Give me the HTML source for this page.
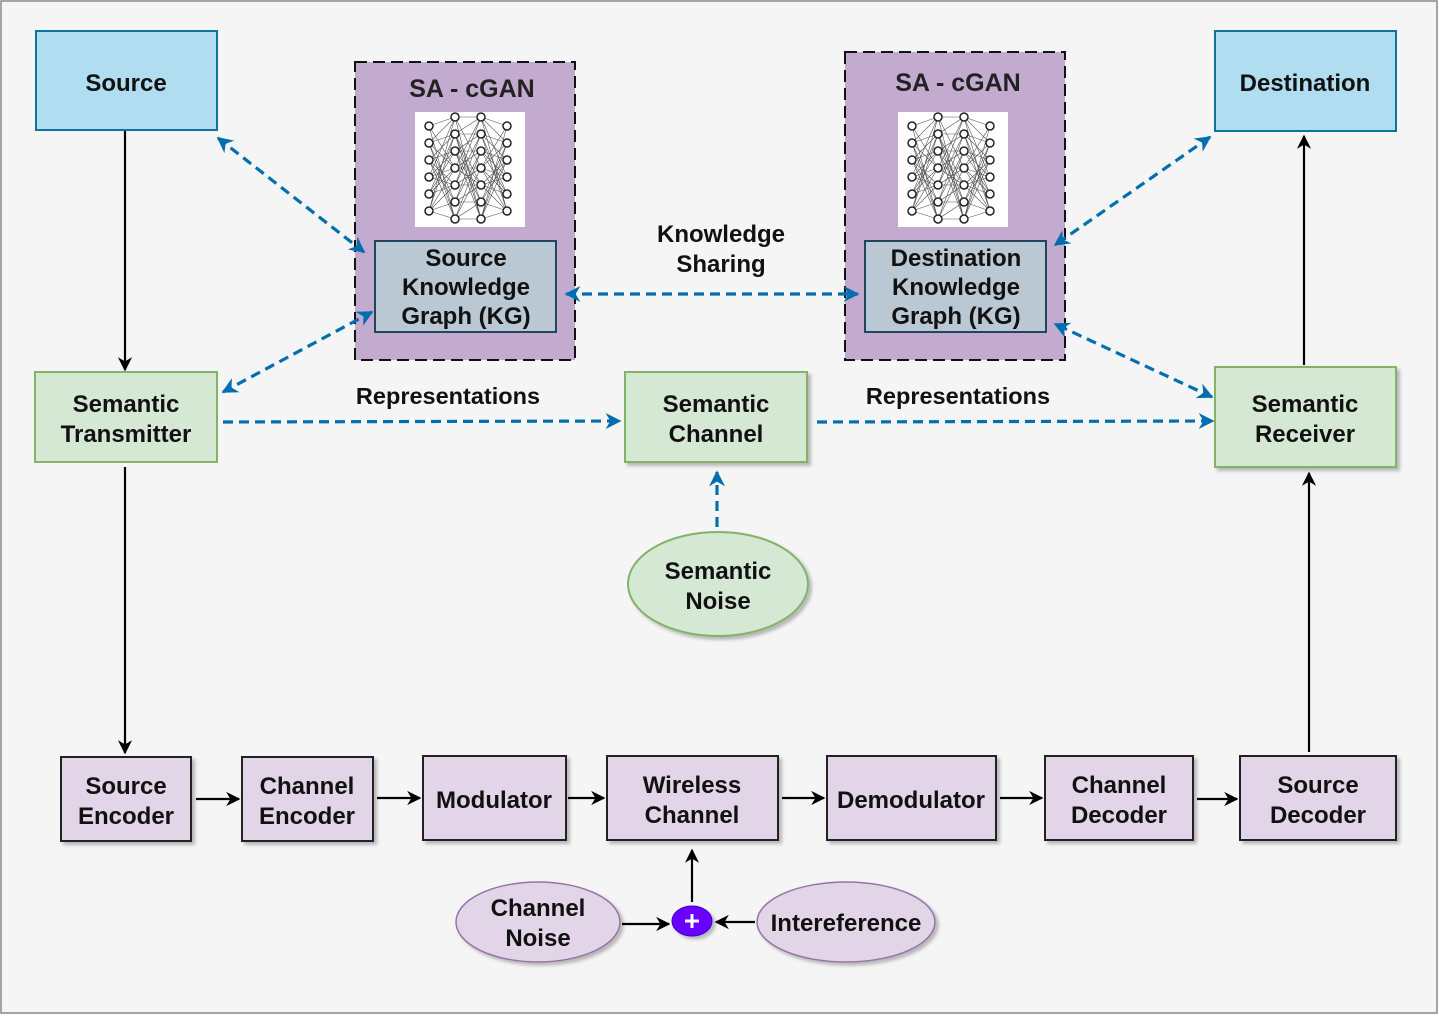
<!DOCTYPE html>
<html><head><meta charset="utf-8"><style>
html,body{margin:0;padding:0;background:#fff}
svg text{font-family:"Liberation Sans",Arial,sans-serif;font-weight:bold;fill:#111}
</style></head><body>
<svg width="1439" height="1016" viewBox="0 0 1439 1016" xmlns="http://www.w3.org/2000/svg">
<defs>
<marker id="ab" viewBox="0 0 10 10" refX="9" refY="5" markerWidth="6.5" markerHeight="6.5" orient="auto-start-reverse"><path d="M0,0 L10,5 L0,10 L3,5 z" fill="#000"/></marker>
<marker id="au" viewBox="0 0 10 10" refX="9" refY="5" markerWidth="5" markerHeight="5" orient="auto-start-reverse"><path d="M0,0 L10,5 L0,10 L3,5 z" fill="#006eaf"/></marker>
<filter id="sh" x="-10%" y="-10%" width="130%" height="130%"><feDropShadow dx="3" dy="3" stdDeviation="1.5" flood-color="#000" flood-opacity="0.25"/></filter>
<g id="nn">
<rect x="0" y="0" width="110" height="115" fill="#fff"/>
<g stroke="#555" stroke-width="0.6" fill="none">
<path d="M14 14L40 5L14 31L40 22L14 48L40 39L14 65L40 56L14 82L40 73L14 99L40 90M14 14L40 107L14 31L40 90L14 48L40 73L14 65L40 39L14 82L40 22L14 99L40 5M14 14L40 56L14 99L40 107M14 31L40 56L14 82L40 56M14 48L40 107M14 65L40 5"/>
<path d="M40 5L66 5L40 22L66 22L40 39L66 39L40 56L66 56L40 73L66 73L40 90L66 90L40 107L66 107M40 5L66 107L40 22L66 90L40 39L66 73L40 56L66 5L40 73L66 22L40 90L66 39L40 107L66 56M40 5L66 56L40 107M40 22L66 73M40 90L66 22M40 39L66 107M40 73L66 5"/>
<path d="M92 14L66 5L92 31L66 22L92 48L66 39L92 65L66 56L92 82L66 73L92 99L66 90M92 14L66 107L92 31L66 90L92 48L66 73L92 65L66 39L92 82L66 22L92 99L66 5M92 14L66 56L92 99L66 107M92 31L66 56L92 82L66 56M92 48L66 107M92 65L66 5"/>
</g>
<g fill="#fff" stroke="#222" stroke-width="1.5">
<circle cx="14" cy="14" r="4"/><circle cx="14" cy="31" r="4"/><circle cx="14" cy="48" r="4"/><circle cx="14" cy="65" r="4"/><circle cx="14" cy="82" r="4"/><circle cx="14" cy="99" r="4"/>
<circle cx="40" cy="5" r="4"/><circle cx="40" cy="22" r="4"/><circle cx="40" cy="39" r="4"/><circle cx="40" cy="56" r="4"/><circle cx="40" cy="73" r="4"/><circle cx="40" cy="90" r="4"/><circle cx="40" cy="107" r="4"/>
<circle cx="66" cy="5" r="4"/><circle cx="66" cy="22" r="4"/><circle cx="66" cy="39" r="4"/><circle cx="66" cy="56" r="4"/><circle cx="66" cy="73" r="4"/><circle cx="66" cy="90" r="4"/><circle cx="66" cy="107" r="4"/>
<circle cx="92" cy="14" r="4"/><circle cx="92" cy="31" r="4"/><circle cx="92" cy="48" r="4"/><circle cx="92" cy="65" r="4"/><circle cx="92" cy="82" r="4"/><circle cx="92" cy="99" r="4"/>
</g>
</g>
</defs>
<rect x="1" y="1" width="1436" height="1012" fill="#f5f5f5" stroke="#888" stroke-width="1.5"/>

<!-- top boxes -->
<rect x="36" y="31" width="181" height="99" fill="#b1ddf0" stroke="#10739e" stroke-width="2"/>
<text x="126" y="91" font-size="24" text-anchor="middle">Source</text>
<rect x="1215" y="31" width="181" height="100" fill="#b1ddf0" stroke="#10739e" stroke-width="2"/>
<text x="1305" y="91" font-size="24" text-anchor="middle">Destination</text>

<!-- SA-cGAN -->
<rect x="355" y="62" width="220" height="298" fill="#c3abd0" stroke="#111" stroke-width="2" stroke-dasharray="12,6"/>
<text x="472" y="97" font-size="25" text-anchor="middle" style="fill:#222">SA - cGAN</text>
<use href="#nn" x="415" y="112"/>
<rect x="375" y="241" width="181" height="91" fill="#bac8d3" stroke="#23445d" stroke-width="2"/>
<text font-size="24" text-anchor="middle"><tspan x="466" y="266">Source</tspan><tspan x="466" y="295">Knowledge</tspan><tspan x="466" y="324">Graph (KG)</tspan></text>

<rect x="845" y="52" width="220" height="308" fill="#c3abd0" stroke="#111" stroke-width="2" stroke-dasharray="12,6"/>
<text x="958" y="91" font-size="25" text-anchor="middle" style="fill:#222">SA - cGAN</text>
<use href="#nn" x="898" y="112"/>
<rect x="865" y="241" width="181" height="91" fill="#bac8d3" stroke="#23445d" stroke-width="2"/>
<text font-size="24" text-anchor="middle"><tspan x="956" y="266">Destination</tspan><tspan x="956" y="295">Knowledge</tspan><tspan x="956" y="324">Graph (KG)</tspan></text>

<text font-size="24" text-anchor="middle"><tspan x="721" y="242">Knowledge</tspan><tspan x="721" y="272">Sharing</tspan></text>
<text x="448" y="404" font-size="23.5" text-anchor="middle">Representations</text>
<text x="958" y="404" font-size="23.5" text-anchor="middle">Representations</text>

<!-- semantic -->
<rect x="35" y="372" width="182" height="90" fill="#d5e8d4" stroke="#82b366" stroke-width="2"/>
<text font-size="24" text-anchor="middle"><tspan x="126" y="412">Semantic</tspan><tspan x="126" y="442">Transmitter</tspan></text>
<rect x="625" y="372" width="182" height="90" fill="#d5e8d4" stroke="#82b366" stroke-width="2" filter="url(#sh)"/>
<text font-size="24" text-anchor="middle"><tspan x="716" y="412">Semantic</tspan><tspan x="716" y="442">Channel</tspan></text>
<rect x="1215" y="367" width="181" height="100" fill="#d5e8d4" stroke="#82b366" stroke-width="2" filter="url(#sh)"/>
<text font-size="24" text-anchor="middle"><tspan x="1305" y="412">Semantic</tspan><tspan x="1305" y="442">Receiver</tspan></text>
<ellipse cx="718" cy="584" rx="90" ry="52" fill="#d5e8d4" stroke="#82b366" stroke-width="2" filter="url(#sh)"/>
<text font-size="24" text-anchor="middle"><tspan x="718" y="579">Semantic</tspan><tspan x="718" y="609">Noise</tspan></text>

<!-- bottom -->
<g fill="#e1d5e7" stroke="#222" stroke-width="2" filter="url(#sh)">
<rect x="61" y="757" width="130" height="84"/>
<rect x="242" y="757" width="131" height="84"/>
<rect x="423" y="756" width="143" height="84"/>
<rect x="607" y="756" width="171" height="84"/>
<rect x="827" y="756" width="169" height="84"/>
<rect x="1045" y="756" width="148" height="84"/>
<rect x="1240" y="756" width="156" height="84"/>
</g>
<g font-size="24" text-anchor="middle">
<text><tspan x="126" y="794">Source</tspan><tspan x="126" y="824">Encoder</tspan></text>
<text><tspan x="307" y="794">Channel</tspan><tspan x="307" y="824">Encoder</tspan></text>
<text x="494" y="808">Modulator</text>
<text><tspan x="692" y="793">Wireless</tspan><tspan x="692" y="823">Channel</tspan></text>
<text x="911" y="808">Demodulator</text>
<text><tspan x="1119" y="793">Channel</tspan><tspan x="1119" y="823">Decoder</tspan></text>
<text><tspan x="1318" y="793">Source</tspan><tspan x="1318" y="823">Decoder</tspan></text>
</g>
<ellipse cx="538" cy="922" rx="82" ry="40" fill="#e1d5e7" stroke="#9673a6" stroke-width="1.5" filter="url(#sh)"/>
<text font-size="24" text-anchor="middle"><tspan x="538" y="916">Channel</tspan><tspan x="538" y="946">Noise</tspan></text>
<ellipse cx="846" cy="922" rx="89" ry="40" fill="#e1d5e7" stroke="#9673a6" stroke-width="1.5" filter="url(#sh)"/>
<text x="846" y="931" font-size="24" text-anchor="middle">Intereference</text>
<ellipse cx="692" cy="921" rx="20" ry="15" fill="#6a00ff" stroke="#3700cc" stroke-width="1" filter="url(#sh)"/>
<path d="M692 914v14M685 921h14" stroke="#fff" stroke-width="3"/>

<!-- black arrows -->
<g stroke="#000" stroke-width="2.2" fill="none" marker-end="url(#ab)">
<path d="M125 131V370"/>
<path d="M125 467V753"/>
<path d="M196 799H239"/>
<path d="M377 798H420"/>
<path d="M568 798H604"/>
<path d="M782 798H824"/>
<path d="M1000 798H1042"/>
<path d="M1197 799H1237"/>
<path d="M1309 752V473"/>
<path d="M1304 365V136"/>
<path d="M692 902V850"/>
<path d="M622 924H669"/>
<path d="M755 922H716"/>
</g>
<!-- blue dashed -->
<g stroke="#006eaf" stroke-width="3.2" fill="none" stroke-dasharray="10,6">
<path d="M218 138L364 252" marker-start="url(#au)" marker-end="url(#au)"/>
<path d="M223 392L372 312" marker-start="url(#au)" marker-end="url(#au)"/>
<path d="M566 294H858" marker-start="url(#au)" marker-end="url(#au)"/>
<path d="M1210 137L1055 245" marker-start="url(#au)" marker-end="url(#au)"/>
<path d="M1212 397L1055 324" marker-start="url(#au)" marker-end="url(#au)"/>
<path d="M223 422L620 421" marker-end="url(#au)"/>
<path d="M817 422L1213 421" marker-end="url(#au)"/>
<path d="M717 527V472" marker-end="url(#au)"/>
</g>
</svg>
</body></html>
